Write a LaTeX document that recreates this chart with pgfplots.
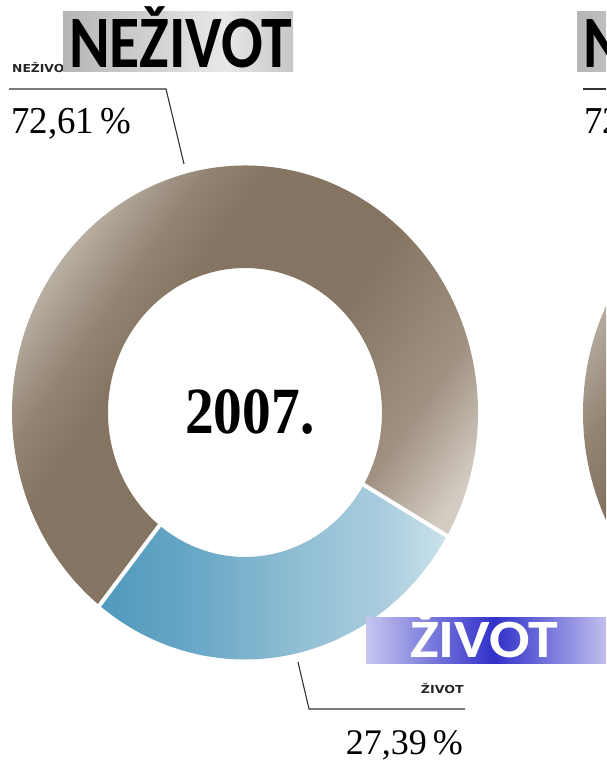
\documentclass[border=0pt]{standalone}
\usepackage{pgfplots}
\pgfplotsset{compat=1.18}
\usepackage{pgfplotstable}
\usepackage{fontspec}
\setmainfont{Liberation Serif}
\newfontfamily\carlito{Carlito}
\newfontfamily\dejavu{DejaVu Sans}

\pgfplotstableread{
label value
Zivot 27.39
Nezivot 72.61
}\shares
\pgfplotstablegetelem{0}{value}\of\shares \let\vZ\pgfplotsretval
\pgfplotstablegetelem{1}{value}\of\shares \let\vN\pgfplotsretval
\pgfmathsetmacro\aS{-30}
\pgfmathsetmacro\aM{\aS-3.6*\vZ}
\pgfmathsetmacro\aMp{\aM+360}

\pgfdeclarehorizontalshading{brownring}{100bp}{rgb(0bp)=(0.87,0.85,0.82); rgb(23.7bp)=(0.86,0.84,0.81); rgb(30.1bp)=(0.69,0.65,0.60); rgb(35.2bp)=(0.58,0.52,0.45); rgb(40.3bp)=(0.52,0.455,0.38); rgb(54.2bp)=(0.52,0.455,0.38); rgb(66.3bp)=(0.63,0.57,0.51); rgb(74.3bp)=(0.83,0.80,0.765); rgb(100bp)=(0.85,0.82,0.79)}
\pgfdeclarehorizontalshading{bluering}{100bp}{rgb(0bp)=(0.30,0.59,0.74); rgb(25bp)=(0.31,0.60,0.74); rgb(39.5bp)=(0.42,0.66,0.78); rgb(53.9bp)=(0.57,0.75,0.83); rgb(65.4bp)=(0.66,0.80,0.87); rgb(74bp)=(0.78,0.88,0.92); rgb(100bp)=(0.80,0.89,0.93)}
\pgfdeclarehorizontalshading{graybox}{100bp}{rgb(0bp)=(0.70,0.70,0.70); rgb(25bp)=(0.71,0.71,0.71); rgb(60bp)=(0.91,0.91,0.91); rgb(75bp)=(0.78,0.78,0.78); rgb(100bp)=(0.78,0.78,0.78)}
\pgfdeclarehorizontalshading{bluebox}{100bp}{rgb(0bp)=(0.78,0.78,0.94); rgb(25bp)=(0.78,0.78,0.94); rgb(51bp)=(0.19,0.19,0.79); rgb(75bp)=(0.78,0.78,0.94); rgb(100bp)=(0.78,0.78,0.94)}

\newcommand\donut[2]{%
 \shade[shading=brownring, shading angle=-35]
  ([shift={(axis cs:#1,#2)}]\aS:233pt and 247pt) arc[start angle=\aS, end angle=\aMp, x radius=233pt, y radius=247pt]
  -- ([shift={(axis cs:#1,#2)}]\aMp:137pt and 144.5pt) arc[start angle=\aMp, end angle=\aS, x radius=137pt, y radius=144.5pt] -- cycle;
 \shade[shading=bluering]
  ([shift={(axis cs:#1,#2)}]\aS:233pt and 247pt) arc[start angle=\aS, end angle=\aM, x radius=233pt, y radius=247pt]
  -- ([shift={(axis cs:#1,#2)}]\aM:137pt and 144.5pt) arc[start angle=\aM, end angle=\aS, x radius=137pt, y radius=144.5pt] -- cycle;
 \draw[white, line width=4pt] ([shift={(axis cs:#1,#2)}]\aS:130pt and 137pt) -- ([shift={(axis cs:#1,#2)}]\aS:240pt and 254pt);
 \draw[white, line width=4pt] ([shift={(axis cs:#1,#2)}]\aM:130pt and 137pt) -- ([shift={(axis cs:#1,#2)}]\aM:240pt and 254pt);
}

\begin{document}
\begin{tikzpicture}
\useasboundingbox (0,0) rectangle (606pt,760pt);
\clip (0,0) rectangle (606pt,760pt);
\begin{axis}[at={(0,0)}, anchor=south west, scale only axis, width=606pt, height=760pt,
  xmin=0, xmax=606, ymin=0, ymax=760, y dir=reverse, hide axis, clip=false, enlargelimits=false]
\donut{245}{412.5}
\donut{816}{413}
% leader lines
\addplot[color=black!80, line width=1.1pt, mark=none] coordinates {(9,89) (166,89) (184,164)};
\addplot[color=black!80, line width=1.1pt, mark=none] coordinates {(298,662) (309,709) (465,709)};
\addplot[color=black!80, line width=1.1pt, mark=none] coordinates {(583,89) (760,89)};
% centre label
\node[anchor=base west, inner sep=0, font=\fontsize{66}{70}\selectfont\bfseries, xscale=0.87] at (axis cs:185,433) {2007.};
% small labels
\node[anchor=base west, inner sep=0, font=\dejavu\bfseries\fontsize{11}{12}\selectfont, text=black!85, xscale=1.12] at (axis cs:12,73) {NEŽIVOT};
\node[anchor=base east, inner sep=0, font=\dejavu\bfseries\fontsize{11}{12}\selectfont, text=black!85, xscale=1.15] at (axis cs:464,693) {ŽIVOT};
% percentages
\node[anchor=base west, inner sep=0, font=\fontsize{38}{40}\selectfont, xscale=0.97] at (axis cs:11,133) {\pgfmathprintnumber[fixed, fixed zerofill, precision=2, use comma, assume math mode=true]{\vN}\,\%};
\node[anchor=base east, inner sep=0, font=\fontsize{36}{40}\selectfont, xscale=1.0] at (axis cs:463,754) {\pgfmathprintnumber[fixed, fixed zerofill, precision=2, use comma, assume math mode=true]{\vZ}\,\%};
\node[anchor=base west, inner sep=0, font=\fontsize{38}{40}\selectfont, xscale=0.97] at (axis cs:584,133) {\pgfmathprintnumber[fixed, fixed zerofill, precision=2, use comma, assume math mode=true]{\vN}\,\%};
% overlay boxes
\shade[shading=graybox] (axis cs:63,12) rectangle (axis cs:293,72);
\node[anchor=base west, inner sep=0, font=\carlito\bfseries\fontsize{74}{80}\selectfont, xscale=0.835] at (axis cs:69,67) {NEŽIVOT};
\shade[shading=graybox] (axis cs:577,12) rectangle (axis cs:807,72);
\node[anchor=base west, inner sep=0, font=\carlito\bfseries\fontsize{74}{80}\selectfont, xscale=0.835] at (axis cs:583,67) {NEŽIVOT};
\shade[shading=bluebox] (axis cs:366,617) rectangle (axis cs:612,663);
\node[anchor=base west, inner sep=0, font=\carlito\bfseries\fontsize{54}{60}\selectfont, text=white, xscale=1.11] at (axis cs:410,657) {ŽIVOT};
\end{axis}
\end{tikzpicture}
\end{document}
